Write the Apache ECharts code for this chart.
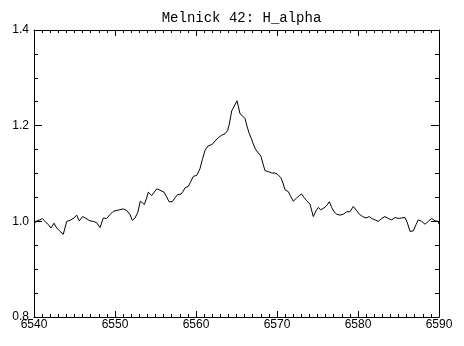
<!DOCTYPE html>
<html>
<head>
<meta charset="utf-8">
<script src="https://cdn.jsdelivr.net/npm/echarts@6/dist/echarts.min.js"></script>
<style>html,body{margin:0;padding:0;background:#fff}#c{width:464px;height:346px}</style>
</head>
<body>
<div id="c"></div>
<script>
const titleText = "Melnick 42: H_alpha";
const xTicks = [6540, 6550, 6560, 6570, 6580, 6590];
const yTicks = [0.8, 1.0, 1.2, 1.4];
const wavelength = [
6540.00,6540.33,6540.74,6541.02,6541.36,6541.77,6542.10,6542.47,6542.80,6543.21,
6543.62,6544.04,6544.44,6544.94,6545.27,6545.59,6546.01,6546.42,6546.91,6547.32,
6547.74,6548.15,6548.56,6548.98,6549.38,6549.79,6550.28,6550.49,6551.02,6551.44,
6551.85,6552.14,6552.47,6552.80,6553.12,6553.37,6553.62,6553.91,6554.11,6554.53,
6554.85,6555.15,6555.56,6556.05,6556.38,6556.67,6557.07,6557.41,6557.74,6558.15,
6558.43,6558.64,6559.05,6559.38,6559.67,6560.09,6560.49,6560.78,6561.11,6561.44,
6561.73,6562.01,6562.35,6562.75,6563.17,6563.58,6563.91,6564.11,6564.41,6564.73,
6565.06,6565.22,6565.43,6565.77,6566.05,6566.30,6566.54,6566.79,6567.07,6567.37,
6567.69,6568.02,6568.31,6568.52,6568.93,6569.35,6569.75,6570.09,6570.49,6570.78,
6570.99,6571.40,6571.69,6572.01,6572.43,6572.75,6573.05,6573.33,6573.67,6574.07,
6574.48,6574.81,6575.10,6575.40,6575.80,6576.14,6576.46,6576.75,6577.04,6577.37,
6577.78,6578.19,6578.60,6579.01,6579.42,6579.75,6580.16,6580.58,6580.99,6581.40,
6581.69,6582.10,6582.51,6582.93,6583.33,6583.74,6584.16,6584.57,6584.98,6585.40,
6585.80,6586.09,6586.42,6586.83,6587.16,6587.44,6587.86,6588.27,6588.68,6589.10,
6589.51,6589.91,6590.00
];
const flux = [
0.994,1.001,1.003,1.006,1.000,0.993,0.986,0.996,0.986,0.979,
0.973,1.000,1.002,1.007,1.013,1.001,1.010,1.006,1.001,1.000,
0.997,0.987,1.007,1.006,1.014,1.021,1.023,1.021,1.026,1.023,
1.014,1.002,1.007,1.018,1.042,1.039,1.035,1.049,1.061,1.054,
1.061,1.068,1.065,1.061,1.051,1.041,1.041,1.049,1.056,1.057,
1.063,1.070,1.073,1.084,1.094,1.096,1.110,1.129,1.148,1.157,
1.159,1.161,1.168,1.175,1.180,1.183,1.190,1.203,1.231,1.241,
1.252,1.241,1.225,1.220,1.215,1.199,1.185,1.175,1.162,1.150,
1.143,1.136,1.118,1.106,1.104,1.101,1.101,1.098,1.091,1.078,
1.066,1.062,1.052,1.042,1.049,1.054,1.057,1.050,1.043,1.036,
1.010,1.022,1.029,1.024,1.028,1.033,1.041,1.029,1.020,1.015,
1.013,1.015,1.020,1.020,1.031,1.024,1.015,1.010,1.007,1.010,
1.006,1.003,1.000,1.006,1.010,1.006,1.003,1.008,1.006,1.007,
1.008,0.997,0.979,0.980,0.993,1.003,1.000,0.994,1.000,1.006,
1.001,1.000,0.994
];

const xMin = xTicks[0], xMax = xTicks[xTicks.length - 1];
const yMin = yTicks[0], yMax = yTicks[yTicks.length - 1];
const data = wavelength.map((w, i) => [w, flux[i]]);
const font = '"Liberation Sans", Arial, sans-serif';
const lineStyle = { color: '#000', width: 1 };

function xAxis(pos, labels) {
  return {
    type: 'value', position: pos, min: xMin, max: xMax, interval: 10,
    axisLine: { show: true, onZero: false, lineStyle },
    axisTick: { show: true, inside: true, length: 6, lineStyle },
    minorTick: { show: true, splitNumber: 10, length: 3, lineStyle },
    splitLine: { show: false }, minorSplitLine: { show: false },
    axisLabel: { show: labels, color: '#000', fontFamily: font, fontSize: 12, margin: 2,
      formatter: v => String(v) }
  };
}
function yAxis(pos, labels) {
  return {
    type: 'value', position: pos, min: yMin, max: yMax, interval: 0.2,
    axisLine: { show: true, onZero: false, lineStyle },
    axisTick: { show: true, inside: true, length: 8, lineStyle },
    minorTick: { show: true, splitNumber: 4, length: 4, lineStyle },
    splitLine: { show: false }, minorSplitLine: { show: false },
    axisLabel: { show: labels, color: '#000', fontFamily: font, fontSize: 12, margin: 5,
      formatter: v => v.toFixed(1) }
  };
}

const chart = echarts.init(document.getElementById('c'), null, { renderer: 'canvas' });
chart.setOption({
  backgroundColor: '#fff',
  animation: false,
  title: {
    text: titleText, left: 236.5, top: 6, textAlign: 'center',
    textStyle: { color: '#000', fontFamily: '"Liberation Mono", monospace', fontSize: 14, fontWeight: 'normal' }
  },
  grid: { left: 34, right: 25, top: 30, bottom: 29, containLabel: false },
  xAxis: [xAxis('bottom', true), xAxis('top', false)],
  yAxis: [yAxis('left', true), yAxis('right', false)],
  series: [{
    type: 'line', data: data, xAxisIndex: 0, yAxisIndex: 0,
    showSymbol: false, lineStyle: { color: '#000', width: 1 }, silent: true
  }]
});
</script>
</body>
</html>
